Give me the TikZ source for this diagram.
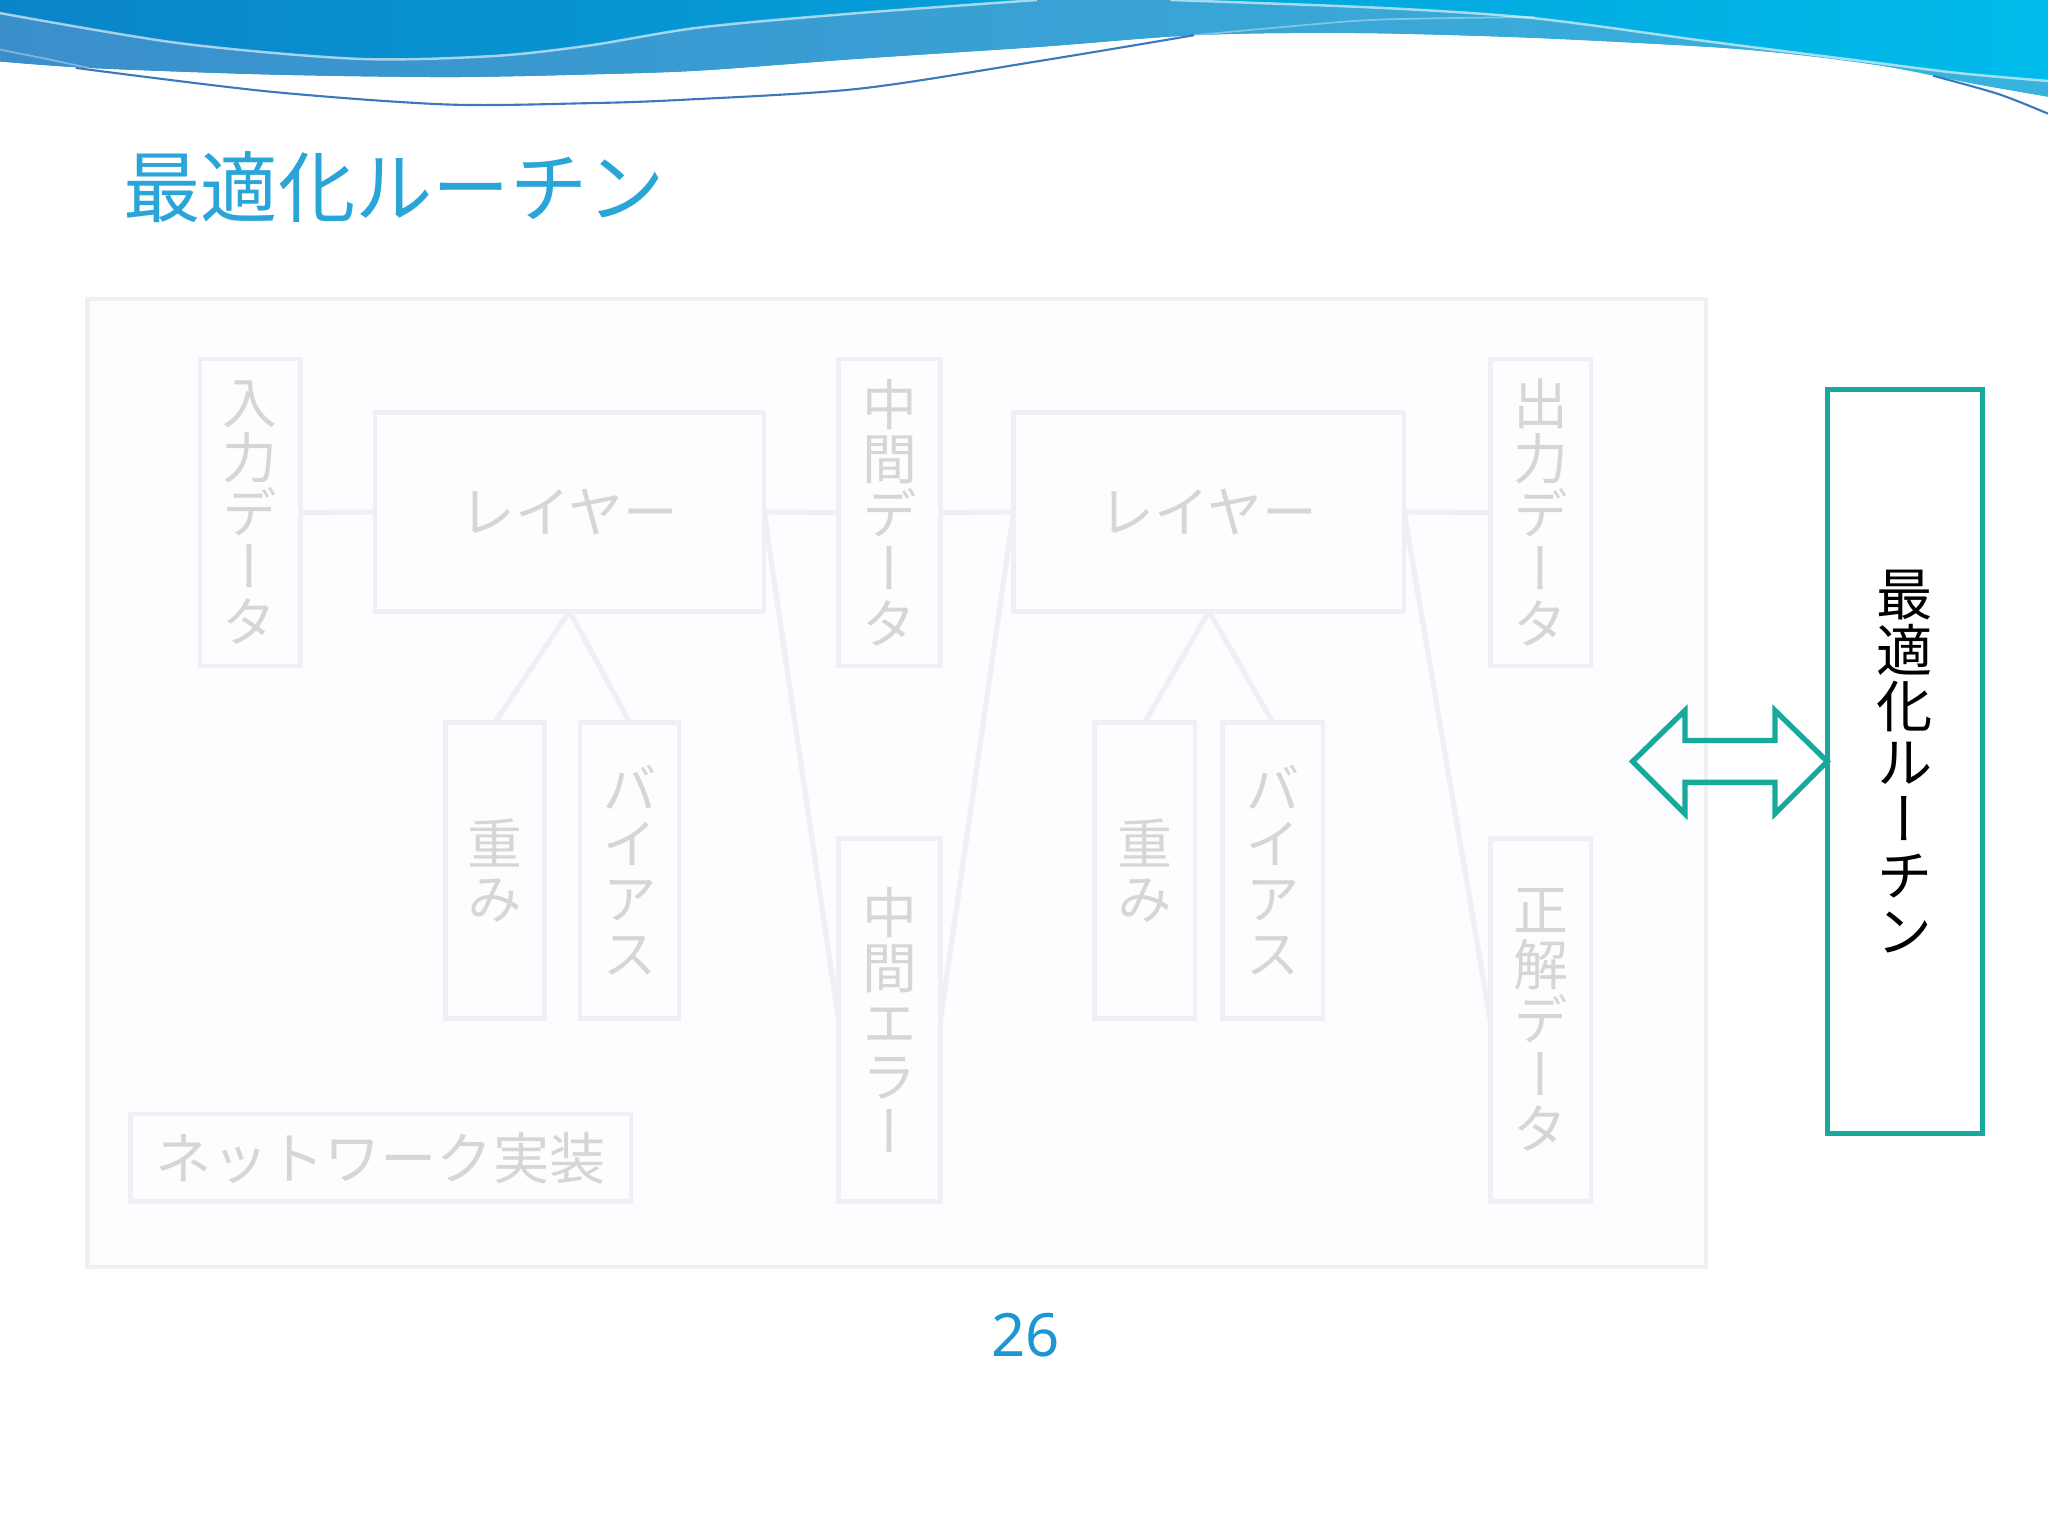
\documentclass[tikz,border=0pt]{standalone}
\usepackage{fontspec}
\usetikzlibrary{backgrounds}
\newfontfamily\jp{Noto Sans CJK JP}
\newfontfamily\vjp[RawFeature=+vert]{Noto Sans CJK JP}
\newfontfamily\numfont{Noto Sans}
\definecolor{faintline}{HTML}{F0EFF3}
\definecolor{faintfill}{HTML}{FDFCFE}
\definecolor{fainttext}{HTML}{D6D5D8}
\definecolor{tealc}{HTML}{18A99D}
\definecolor{titleblue}{HTML}{2AA5D8}
\definecolor{numblue}{HTML}{1B97D5}
\definecolor{waveL}{HTML}{0A84C8}
\definecolor{waveM}{HTML}{00A8E0}
\definecolor{waveR}{HTML}{00BBEB}
\definecolor{bandL}{HTML}{3A8FCB}
\definecolor{bandR}{HTML}{38B3DE}
\definecolor{thinline}{HTML}{3C78BE}
\newcommand\pxu{0.013061cm}
\tikzset{
  sz/.style 2 args={minimum width={#1*\pxu}, minimum height={#2*\pxu}},
  fbox/.style={draw=faintline, fill=faintfill, line width=1.3pt, inner sep=0pt, outer sep=0pt, text=fainttext},
  vtext/.style={font=\vjp\fontsize{15.6pt}{15.6pt}\selectfont, align=center},
  htext/.style={font=\jp\fontsize{15.6pt}{18pt}\selectfont},
  link/.style={draw=faintline, line width=1.5pt},
}
\begin{document}
\begin{tikzpicture}[x=0.013061cm, y=-0.013061cm]
\useasboundingbox (0,0) rectangle (1568,1176);

% ---- faded network diagram ----
\node[fbox, sz={77}{235}, vtext] (in) at (191.5,392.5) {入\\力\\デ\\ー\\タ};
\node[fbox, sz={298}{152}, htext] (L1) at (436,392) {レイヤー};
\node[fbox, sz={78}{235}, vtext] (mid) at (681,392.5) {中\\間\\デ\\ー\\タ};
\node[fbox, sz={299}{152}, htext] (L2) at (925.5,392) {レイヤー};
\node[fbox, sz={77}{235}, vtext] (out) at (1179.5,392.5) {出\\力\\デ\\ー\\タ};
\node[fbox, sz={76}{227}, vtext] (w1) at (379,666.5) {重\\み};
\node[fbox, sz={76}{227}, vtext] (b1) at (482,666.5) {バ\\イ\\ア\\ス};
\node[fbox, sz={77}{227}, vtext] (w2) at (876.5,666.5) {重\\み};
\node[fbox, sz={77}{227}, vtext] (b2) at (974.5,666.5) {バ\\イ\\ア\\ス};
\node[fbox, sz={78}{278}, vtext] (err) at (681,781) {中\\間\\エ\\ラ\\ー};
\node[fbox, sz={77}{278}, vtext] (ans) at (1179.5,781) {正\\解\\デ\\ー\\タ};
\node[fbox, sz={383}{67}, font=\jp\fontsize{16pt}{18pt}\selectfont] (net) at (291.5,886.5) {ネットワーク実装};

\begin{scope}[on background layer]
\fill[white] (0,0) rectangle (1568,1176);
% ---- top wave ----
\shade[left color=waveL, middle color=waveM, right color=waveR]
  (0,0) -- (1568,0) -- (1568,74)
  -- plot[smooth] coordinates {(1568,74) (1511,64) (1445,51) (1377,42) (1310,36) (1175,29) (1057,25.5) (965,25.5) (896,28) (794,36) (657,45) (536,54) (450,57) (342,59) (205,57) (68,52) (0,47)}
  -- cycle;
\shade[left color=bandL, right color=bandR]
  (0,10) -- plot[smooth] coordinates {(0,10) (137,33) (273,45) (376,43) (450,35) (536,21) (657,10) (794,0)}
  -- (896,0)
  -- plot[smooth] coordinates {(896,0) (1057,6) (1175,14) (1310,32) (1420,46) (1500,56) (1568,62)}
  -- (1568,74)
  -- plot[smooth] coordinates {(1568,74) (1511,64) (1445,51) (1377,42) (1310,36) (1175,29) (1057,25.5) (965,25.5) (896,28) (794,36) (657,45) (536,54) (450,57) (342,59) (205,57) (68,52) (0,47)}
  -- cycle;
\draw[white, opacity=0.6, line width=0.7pt]
  plot[smooth] coordinates {(0,10) (137,33) (273,45) (376,43) (450,35) (536,21) (657,10) (794,0)};
\draw[white, opacity=0.6, line width=0.7pt]
  plot[smooth] coordinates {(896,0) (1057,6) (1175,14) (1310,32) (1420,46) (1500,56) (1568,62)};
\draw[white, opacity=0.35, line width=0.5pt]
  plot[smooth] coordinates {(0,38) (35,45) (68,52)};
\draw[white, opacity=0.35, line width=0.5pt]
  plot[smooth] coordinates {(914,27) (990,20) (1057,15) (1175,13)};
\draw[thinline, line width=0.6pt]
  plot[smooth] coordinates {(58,52) (205,70) (342,80) (450,79) (521,76.5) (657,68) (794,47) (914,27)};
\draw[thinline, line width=0.6pt]
  plot[smooth] coordinates {(1480,58) (1530,72) (1568,87)};

\node[fbox, sz={1239}{741}] (outer) at (686.5,599.5) {};
% connectors
\draw[link] (in.east) -- (L1.west);
\draw[link] (L1.east) -- (mid.west);
\draw[link] (mid.east) -- (L2.west);
\draw[link] (L2.east) -- (out.west);
\draw[link] (L1.south) -- (w1.north);
\draw[link] (L1.south) -- (b1.north);
\draw[link] (L2.south) -- (w2.north);
\draw[link] (L2.south) -- (b2.north);
\draw[link] (L1.east) -- (err.west);
\draw[link] (err.east) -- (L2.west);
\draw[link] (L2.east) -- (ans.west);
\end{scope}

% ---- title ----
\node[anchor=west, text=titleblue, font=\jp\fontsize{22pt}{26pt}\selectfont, inner sep=0pt] (title) at (94,143) {最適化ルーチン};

% ---- optimisation routine ----
\node[draw=tealc, fill=white, line width=1.5pt, sz={119}{570}, inner sep=0pt, outer sep=0pt,
      font=\vjp\fontsize{16pt}{16pt}\selectfont, align=center, text=black] (opt) at (1458.5,583)
      {最\\適\\化\\ル\\ー\\チ\\ン};

\coordinate (tipR) at (opt.west);
\draw[tealc, line width=1.5pt, line join=miter]
  (tipR) -- ++(-40,-39) -- ++(0,23) -- ++(-69,0) -- ++(0,-23) -- ++(-40,39)
  -- ++(40,40) -- ++(0,-24) -- ++(69,0) -- ++(0,24) -- cycle;

% ---- page number ----
\node[text=numblue, font=\numfont\fontsize{17pt}{20pt}\selectfont, inner sep=0pt] (pnum) at (785,1022) {26};
\end{tikzpicture}
\end{document}
